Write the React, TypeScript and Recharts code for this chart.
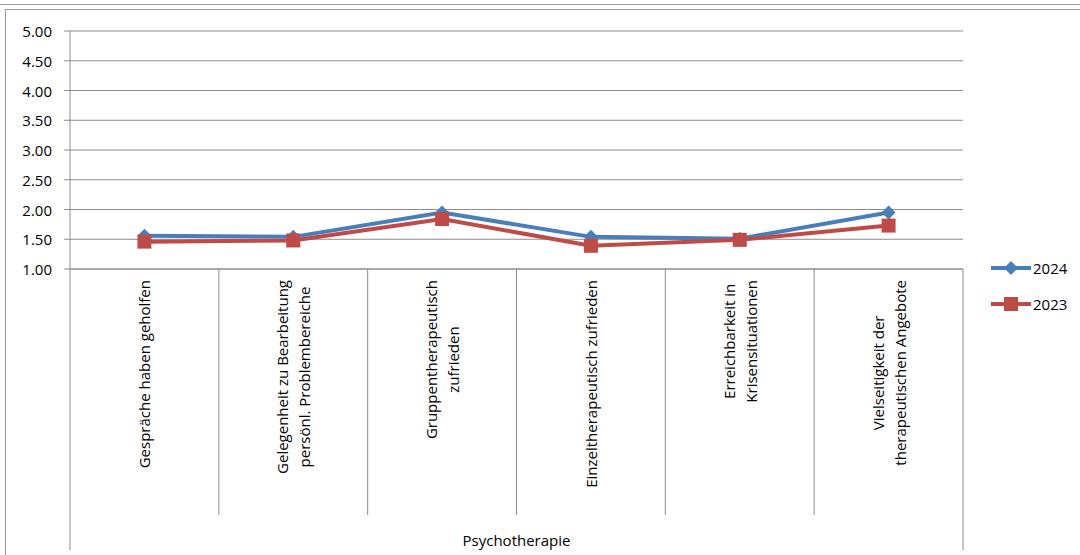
import React from "react";
import { LineChart, Line, XAxis, YAxis, CartesianGrid } from "recharts";

const categories = [
    "Gespräche haben geholfen",
    "Gelegenheit zu Bearbeitung\npersönl. Problembereiche",
    "Gruppentherapeutisch\nzufrieden",
    "Einzeltherapeutisch zufrieden",
    "Erreichbarkeit in\nKrisensituationen",
    "Vielseitigkeit der\ntherapeutischen Angebote",
];
const values2024 = [1.56, 1.54, 1.95, 1.54, 1.51, 1.95];
const values2023 = [1.46, 1.48, 1.84, 1.39, 1.49, 1.73];
const yTicks = [1, 1.5, 2, 2.5, 3, 3.5, 4, 4.5, 5];
const groupLabel = "Psychotherapie";

const data = categories.map((c, i) => ({ name: c, y2024: values2024[i], y2023: values2023[i] }));

const FONT = "'Open Sans', sans-serif";
const FS = 15;
const BLUE = "#4A7EBB";
const RED = "#BE4B48";
const GRID = "#8c8c8c";

let ctx: CanvasRenderingContext2D | null = null;
function measure(t: string) {
    if (!ctx) ctx = document.createElement("canvas").getContext("2d");
    if (!ctx) return t.length * 7.5;
    ctx.font = `${FS}px 'Open Sans'`;
    return ctx.measureText(t).width;
}

const CategoryTick = (props: any) => {
    const { x, y, payload, index } = props;
    const half = payload.offset || 74.4;
    const lines: string[] = String(payload.value).split("\n");
    const maxW = Math.max(...lines.map(measure));
    const top = y + 11;
    const cy = top + maxW / 2;
    const lh = 22;
    return (
        <g>
            {index === 0 && <line x1={x - half} x2={x - half} y1={y} y2={y + 281} stroke={GRID} />}
            <line x1={x + half} x2={x + half} y1={y} y2={index === categories.length - 1 ? y + 281 : y + 246} stroke={GRID} />
            {lines.map((l, i) => {
                const lx = x + (i - (lines.length - 1) / 2) * lh;
                return (
                    <text key={i} x={lx} y={cy} transform={`rotate(-90, ${lx}, ${cy})`}
                        textAnchor="middle" dominantBaseline="central"
                        fontFamily={FONT} fontSize={FS} fill="#000">{l}</text>
                );
            })}
            {index === 0 && (
                <text x={x - half + half * categories.length} y={y + 271} textAnchor="middle"
                    dominantBaseline="central" fontFamily={FONT} fontSize={FS} fill="#000">{groupLabel}</text>
            )}
        </g>
    );
};

const ValueTick = (props: any) => {
    const { x, y, payload } = props;
    return (
        <text x={x} y={y} textAnchor="end" dominantBaseline="central"
            fontFamily={FONT} fontSize={FS} fill="#000">{Number(payload.value).toFixed(2)}</text>
    );
};

const Diamond = (props: any) => {
    const { cx, cy } = props;
    const s = 7;
    return <path d={`M${cx},${cy - s}L${cx + s},${cy}L${cx},${cy + s}L${cx - s},${cy}Z`} fill={BLUE} />;
};
const Square = (props: any) => {
    const { cx, cy } = props;
    const s = 7;
    return <rect x={cx - s} y={cy - s} width={s * 2} height={s * 2} fill={RED} />;
};

const legendItems = [
    { label: "2024", color: BLUE, shape: "diamond" },
    { label: "2023", color: RED, shape: "square" },
];

export default function App() {
    return (
        <div style={{ position: "absolute", left: 0, top: 0, width: 1080, height: 555, background: "#fff", overflow: "hidden" }}>
            <div style={{ position: "absolute", left: -2, top: -10, width: 1120, height: 13, border: "1px solid #9a9a9a" }} />
            <div style={{ position: "absolute", left: 5, top: 9, width: 1120, height: 600, border: "1px solid #9a9a9a" }} />
            <div style={{ position: "absolute", left: 0, top: 0 }}>
                <LineChart width={1080} height={555} data={data} margin={{ top: 31, right: 117, bottom: 0, left: 10 }}>
                    <CartesianGrid horizontal vertical={false} stroke={GRID} strokeWidth={1} />
                    <XAxis dataKey="name" scale="band" height={286} interval={0} tickSize={0} tickMargin={0}
                        axisLine={{ stroke: GRID }} tickLine={false} tick={<CategoryTick />} />
                    <YAxis domain={[1, 5]} ticks={yTicks} width={60} tickSize={6} tickMargin={12}
                        axisLine={{ stroke: GRID }} tickLine={{ stroke: GRID }}
                        tick={<ValueTick />} />
                    <Line dataKey="y2024" stroke={BLUE} strokeWidth={4} dot={<Diamond />} isAnimationActive={false} />
                    <Line dataKey="y2023" stroke={RED} strokeWidth={4} dot={<Square />} isAnimationActive={false} />
                </LineChart>
            </div>
            {legendItems.map((it, i) => (
                <div key={it.label} style={{ position: "absolute", left: 990, top: 258 + i * 36, display: "flex", alignItems: "center", fontFamily: FONT, fontSize: FS }}>
                    <svg width={42} height={20}>
                        <line x1={1} x2={41} y1={10} y2={10} stroke={it.color} strokeWidth={4} />
                        {it.shape === "diamond"
                            ? <path d="M21,3L28,10L21,17L14,10Z" fill={it.color} />
                            : <rect x={14} y={3} width={14} height={14} fill={it.color} />}
                    </svg>
                    <span style={{ marginLeft: 1 }}>{it.label}</span>
                </div>
            ))}
        </div>
    );
}
